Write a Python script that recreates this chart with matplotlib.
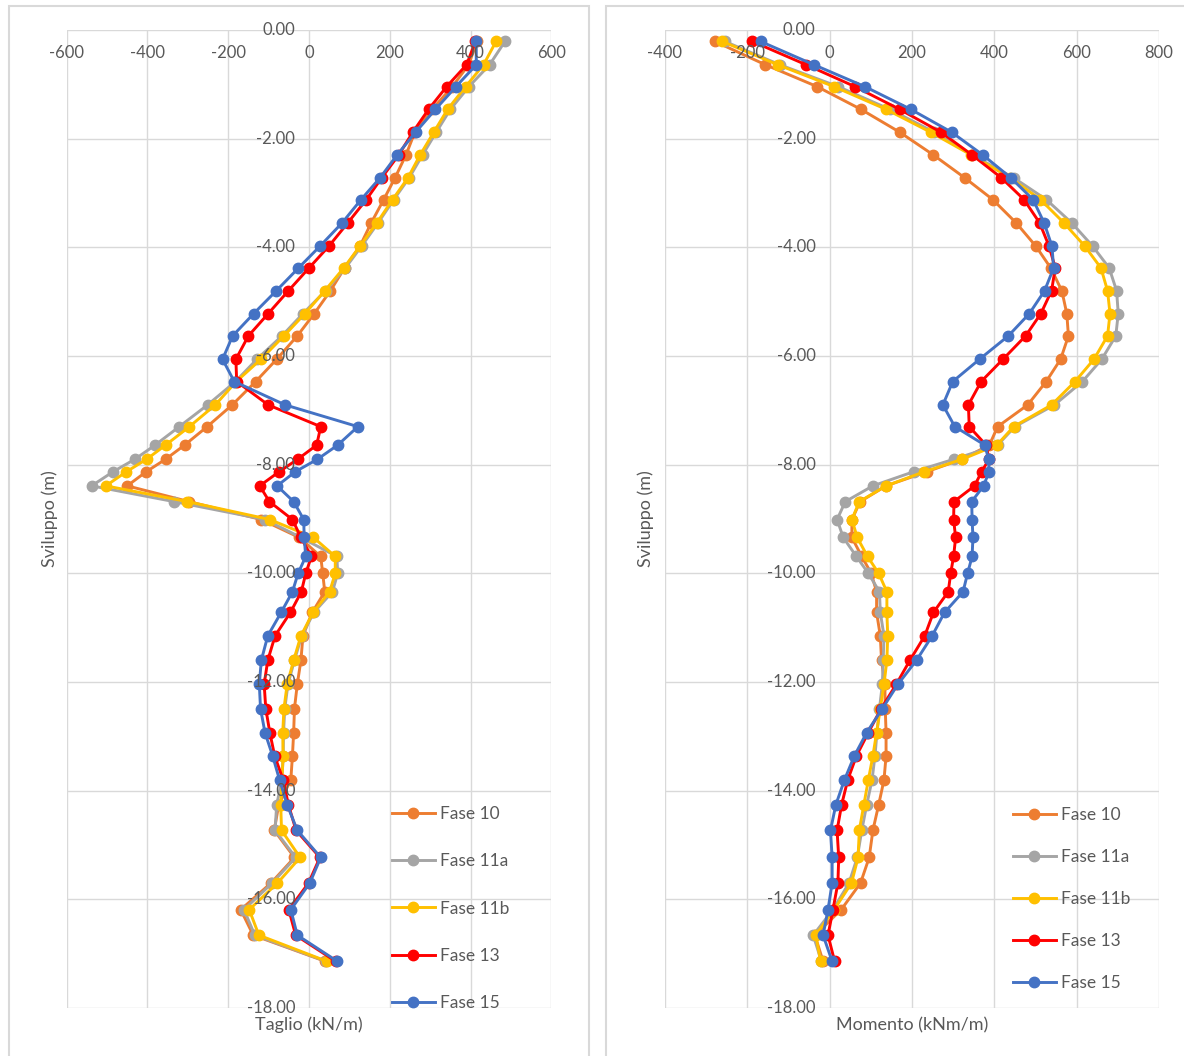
import numpy as np
import matplotlib.pyplot as plt
from matplotlib.patches import Rectangle
from matplotlib.transforms import offset_copy

plt.rcParams['font.family'] = ['Lato', 'DejaVu Sans']

# quote dei nodi (m)
sviluppo = [-0.21, -0.64, -1.04, -1.46, -1.88, -2.30, -2.72, -3.12, -3.55, -3.98,
            -4.38, -4.80, -5.22, -5.63, -6.06, -6.47, -6.90, -7.30, -7.64, -7.90,
            -8.13, -8.39, -8.68, -9.01, -9.34, -9.69, -10.00, -10.34, -10.72, -11.15,
            -11.60, -12.04, -12.49, -12.93, -13.36, -13.80, -14.26, -14.73, -15.23, -15.70,
            -16.19, -16.66, -17.14]

fasi = ['Fase 10', 'Fase 11a', 'Fase 11b', 'Fase 13', 'Fase 15']
colori = ['#ED7D31', '#A5A5A5', '#FFC000', '#FF0000', '#4472C4']

# Taglio (kN/m)
taglio_f10 = [416, 395, 355, 305, 262, 240, 213, 185, 154, 126,
              88, 53, 13, -29, -80, -132, -190, -252, -308, -355,
              -403, -450, -297, -118, -24, 29, 34, 39, 8, -15,
              -20, -29, -36, -38, -41, -45, -75, -86, -36, -94,
              -169, -138, 40]
taglio_f11a = [485, 447, 396, 350, 315, 281, 248, 210, 171, 130,
               90, 41, -15, -67, -129, -182, -251, -321, -381, -431,
               -485, -538, -334, -109, -20, 69, 71, 58, 12, -18,
               -36, -52, -60, -63, -64, -67, -80, -84, -33, -91,
               -161, -134, 42]
taglio_f11b = [463, 432, 388, 343, 309, 275, 245, 207, 168, 126,
               86, 39, -10, -62, -119, -180, -232, -296, -355, -402,
               -452, -503, -301, -97, 11, 65, 65, 51, 10, -20,
               -38, -54, -62, -65, -64, -67, -70, -68, -22, -78,
               -148, -124, 44]
taglio_f13 = [412, 390, 341, 296, 257, 222, 180, 142, 96, 49,
              0, -51, -101, -150, -181, -179, -101, 29, 19, -28,
              -74, -122, -98, -41, -20, 6, -8, -19, -46, -84,
              -102, -111, -107, -97, -85, -64, -51, -32, 27, -1,
              -50, -33, 66]
taglio_f15 = [414, 414, 364, 313, 264, 218, 176, 129, 82, 27,
              -26, -81, -137, -189, -214, -185, -59, 121, 71, 21,
              -34, -79, -38, -13, -12, -8, -27, -41, -69, -102,
              -118, -123, -120, -109, -90, -73, -54, -29, 29, 2,
              -45, -29, 70]

# Momento (kNm/m)
momento_f10 = [-279, -156, -31, 76, 170, 252, 328, 396, 453, 501,
               537, 564, 576, 580, 561, 526, 481, 408, 388, 321,
               236, 137, 74, 54, 54, 78, 101, 114, 114, 123,
               126, 134, 135, 137, 137, 132, 119, 105, 96, 75,
               28, -36, -16]
momento_f11a = [-255, -121, 20, 146, 254, 346, 447, 526, 588, 639,
                679, 697, 701, 695, 661, 614, 546, 450, 408, 302,
                204, 105, 38, 18, 33, 65, 94, 121, 123, 132,
                130, 128, 121, 115, 110, 103, 90, 78, 67, 47,
                8, -40, -20]
momento_f11b = [-261, -126, 10, 137, 245, 344, 438, 512, 569, 620,
                659, 675, 681, 675, 642, 596, 539, 447, 406, 322,
                230, 137, 72, 54, 67, 92, 119, 139, 139, 141,
                139, 132, 123, 114, 105, 94, 83, 72, 69, 53,
                11, -34, -22]
momento_f13 = [-188, -57, 61, 170, 270, 346, 417, 472, 510, 533,
               548, 539, 513, 476, 421, 368, 337, 339, 380, 387,
               369, 352, 302, 301, 306, 301, 294, 288, 252, 231,
               195, 162, 125, 94, 65, 44, 29, 18, 22, 20,
               8, -4, 12]
momento_f15 = [-168, -38, 85, 197, 296, 372, 440, 494, 521, 540,
               544, 522, 485, 434, 364, 299, 275, 304, 377, 386,
               387, 374, 345, 346, 348, 346, 335, 324, 279, 249,
               211, 166, 128, 90, 60, 36, 15, 2, 6, 6,
               -4, -16, 6]

W, H = 1184, 1056
GRIGIO = '#595959'
fig = plt.figure(figsize=(W / 100, H / 100), dpi=100)


def rect_px(x0, y0, x1, y1):
    # rettangolo in pixel (origine in alto a sinistra) -> coordinate figura
    return [x0 / W, 1 - y1 / H, (x1 - x0) / W, (y1 - y0) / H]


# cornici dei due grafici
for x0, x1 in [(9, 589), (606, 1200)]:
    fig.patches.append(Rectangle((x0 / W, -0.02), (x1 - x0) / W, 1.02 - 6 / H,
                                 transform=fig.transFigure, fill=False,
                                 ec='#D9D9D9', lw=1.5))


def grafico(box, serie, xmin, xmax, xlabel, ylab_x, leg_pos, leg_sp):
    ax = fig.add_axes(rect_px(*box))
    for vals, nome, col in zip(serie, fasi, colori):
        ax.plot(vals, sviluppo, color=col, lw=2.1, marker='o', ms=7.5, label=nome,
                zorder=3)
    ax.set_xlim(xmin, xmax)
    ax.set_ylim(-18, 0)
    ax.set_xticks(np.arange(xmin, xmax + 1, 200))
    ax.set_yticks(np.arange(-18, 1, 2))
    ax.tick_params(length=0, labelbottom=False, labelleft=False)
    ax.grid(color='#D9D9D9', lw=1)
    ax.set_axisbelow(True)
    for s in ax.spines.values():
        s.set_visible(False)

    tr_x = offset_copy(ax.get_xaxis_transform(), fig=fig, y=-23, units='dots')
    for v in ax.get_xticks():
        ax.text(v, 1, f'{v:.0f}', transform=tr_x, ha='center', va='center',
                fontsize=12, color=GRIGIO)
    tr_y = offset_copy(ax.transData, fig=fig, x=-14, units='dots')
    for v in ax.get_yticks():
        ax.text(0, v, f'{v:.2f}', transform=tr_y, ha='right', va='center',
                fontsize=12, color=GRIGIO, zorder=4)

    cx = (box[0] + box[2]) / 2
    fig.text(cx / W, 1 - 1025 / H, xlabel, ha='center', va='center',
             fontsize=13, color=GRIGIO)
    fig.text(ylab_x / W, 1 - 519 / H, 'Sviluppo (m)', rotation=90,
             ha='center', va='center', fontsize=13, color=GRIGIO)

    ax.legend(loc='upper left', bbox_to_anchor=(leg_pos[0] / W, 1 - leg_pos[1] / H),
              bbox_transform=fig.transFigure, frameon=False, fontsize=12.5,
              labelcolor=GRIGIO, handlelength=2.45, handletextpad=0.3,
              labelspacing=leg_sp, borderpad=0, borderaxespad=0)
    return ax


ax1 = grafico((66.6, 30, 551.4, 1008),
              [taglio_f10, taglio_f11a, taglio_f11b, taglio_f13, taglio_f15],
              -600, 600, 'Taglio (kN/m)', 50, (392, 806), 1.8)
ax2 = grafico((665, 30, 1159, 1008),
              [momento_f10, momento_f11a, momento_f11b, momento_f13, momento_f15],
              -400, 800, 'Momento (kNm/m)', 646, (1013, 807), 1.5)

plt.savefig('out.png', dpi=100)
